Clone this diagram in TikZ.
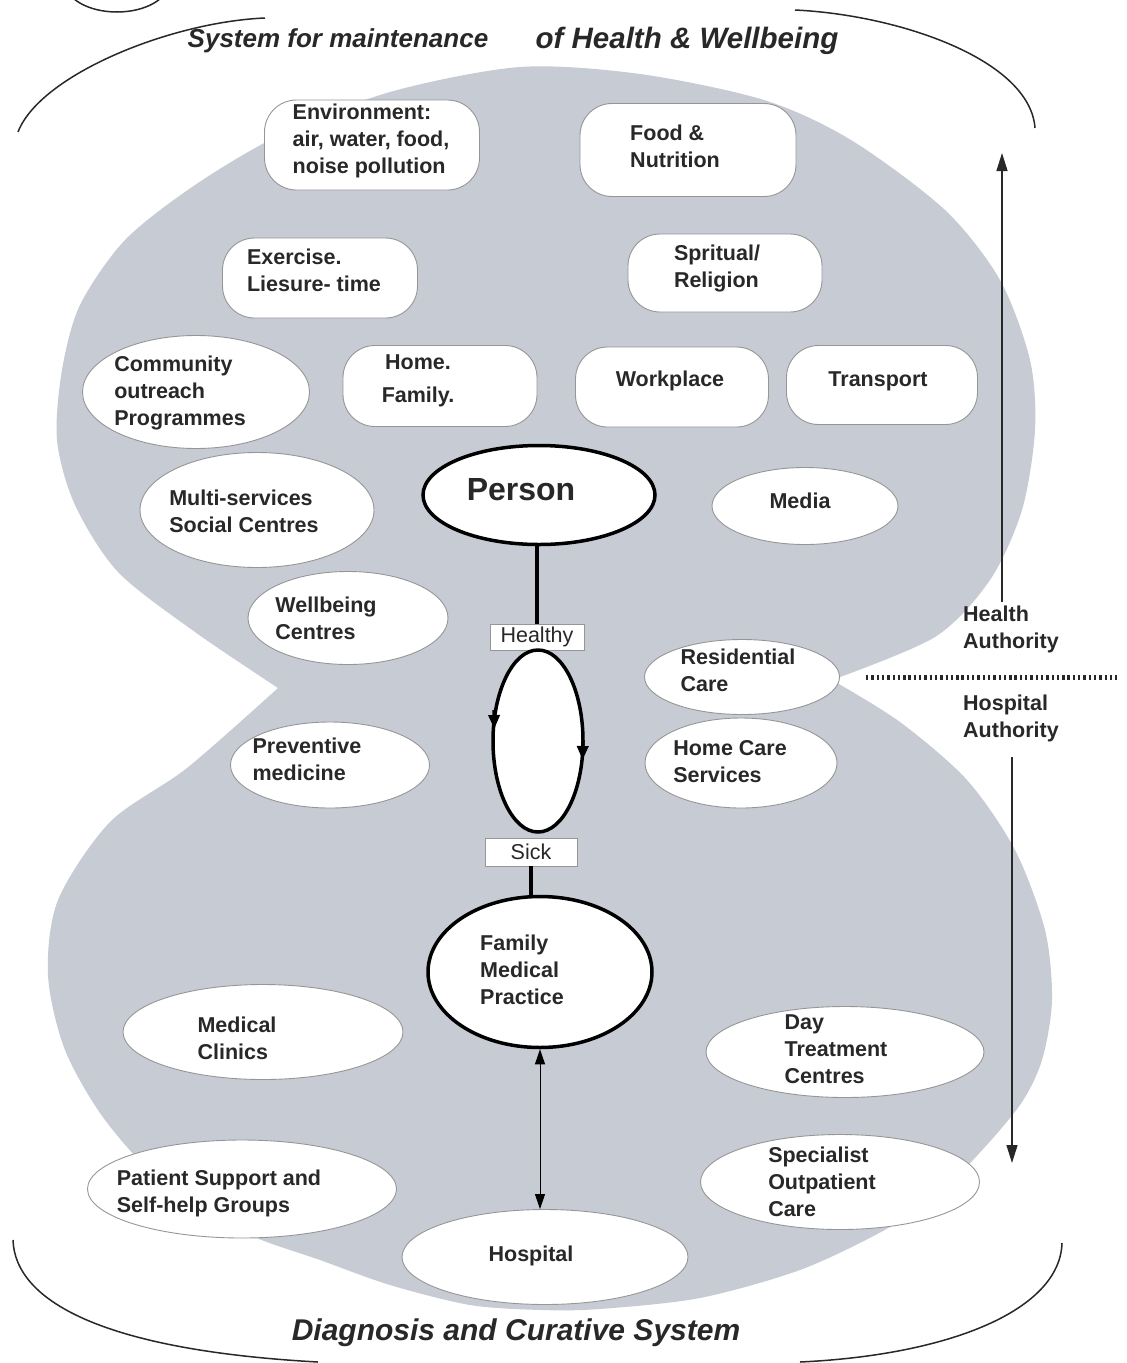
\documentclass[tikz,border=0pt]{standalone}
\usepackage{fontspec}
\setmainfont{Liberation Sans}
\usetikzlibrary{shapes,arrows.meta}
\definecolor{lobe}{RGB}{199,203,212}
\definecolor{rim}{RGB}{150,150,150}
\definecolor{ink}{RGB}{40,40,40}

\begin{document}
\begin{tikzpicture}[x=1pt,y=-1pt,
  every node/.style={inner sep=0pt},
  say/.style={font=\bfseries\fontsize{21.5}{27}\selectfont, align=left, text=ink},
  box/.style={draw=rim, line width=0.9pt, fill=white, rounded corners=32pt},
  oval/.style={draw=rim, line width=0.9pt, fill=white, ellipse},
  hub/.style={draw=black, line width=3.5pt, fill=white, ellipse},
  tag/.style={draw=rim, line width=0.9pt, fill=white, font=\fontsize{21.5}{24}\selectfont, text=ink},
  ttl/.style={font=\bfseries\itshape\fontsize{26}{30}\selectfont, text=ink},
  link/.style={line width=3.5pt},
  dbl/.style={line width=1pt, {Triangle[length=15pt,width=10pt]}-{Triangle[length=15pt,width=10pt]}},
  auth/.style={line width=1.4pt, draw=ink, -{Triangle[length=18pt,width=11pt]}},
  swoop/.style={line width=1.5pt, draw=ink},
  ring/.style={line width=3.5pt, fill=white},
  turn/.style={line width=3.5pt, -{Triangle[length=14pt,width=11pt]}}]

\useasboundingbox (0,0) rectangle (1127,1363);

% grey figure of eight
\fill[lobe] plot[smooth] coordinates {(278,688) (195,632) (118,572) (75,505) (57,440)
    (62,370) (80,305) (125,240) (195,185) (280,135) (390,92) (520,67) (640,74)
    (764,100) (851,140) (945,210) (1000,280) (1030,360) (1035,430) (1022,510)
    (990,580) (935,637) (832,680)}
  -- plot[smooth] coordinates {(832,680) (900,722) (967,780) (1015,850) (1045,930)
    (1052,1000) (1042,1060) (1020,1105) (973,1160) (930,1200) (881,1232) (800,1270)
    (700,1298) (600,1309) (541,1310) (470,1305) (390,1285) (320,1260) (245,1233)
    (165,1185) (105,1120) (65,1050) (48,975) (58,900) (110,822) (187,768) (278,688)}
  -- cycle;

% outer swoops
\draw[swoop] (117,-18) ellipse (52 and 30);
\draw[swoop] (265,18) .. controls (170,22) and (40,75) .. (18,132);
\draw[swoop] (795,10) .. controls (900,15) and (1030,60) .. (1035,128);
\draw[swoop] (13,1240) .. controls (15,1300) and (100,1350) .. (318,1362);
\draw[swoop] (1062,1243) .. controls (1060,1310) and (950,1355) .. (800,1362);

% titles
\node[ttl] (sysA) at (338,41) {System for maintenance};
\node[ttl, font=\bfseries\itshape\fontsize{29.5}{33}\selectfont] (sysB) at (687,41) {of Health \& Wellbeing};
\node[ttl, font=\bfseries\itshape\fontsize{30}{34}\selectfont] (cure) at (516,1333) {Diagnosis and Curative System};

% upper system
\node[box, minimum width=215, minimum height=90,
  label={[say, xshift=-1pt, yshift=4pt]center:{Environment:\\air, water, food,\\noise pollution}}] (env) at (372,145) {};
\node[box, minimum width=216, minimum height=93,
  label={[say, xshift=-13pt, yshift=4pt]center:{Food \&\\Nutrition}}] (food) at (688,150) {};
\node[box, minimum width=195, minimum height=80,
  label={[say, xshift=-6pt, yshift=8pt]center:{Exercise.\\Liesure- time}}] (exer) at (320,278) {};
\node[box, minimum width=194, minimum height=78,
  label={[say, xshift=-8pt, yshift=5pt]center:{Spritual/\\Religion}}] (faith) at (725,273) {};
\node[oval, minimum width=227, minimum height=113,
  label={[say, xshift=-16pt, yshift=-1pt]center:{Community\\outreach\\Programmes}}] (outreach) at (196,392) {};
\node[box, minimum width=194, minimum height=81,
  label={[say, align=center, xshift=-22pt, yshift=5pt]center:{Home.\\[6pt]Family.}}] (home) at (440,386) {};
\node[box, minimum width=193, minimum height=80,
  label={[say, xshift=-2pt, yshift=6pt]center:Workplace}] (work) at (672,387) {};
\node[box, minimum width=191, minimum height=79,
  label={[say, xshift=-4pt, yshift=4pt]center:Transport}] (trans) at (882,385) {};
\node[hub, minimum width=232, minimum height=99,
  label={[say, font=\bfseries\fontsize{32}{36}\selectfont, xshift=-18pt, yshift=5pt]center:Person}] (person) at (539,495) {};
\node[oval, minimum width=186, minimum height=77,
  label={[say, xshift=-5pt, yshift=5pt]center:Media}] (media) at (805,506) {};
\node[oval, minimum width=234, minimum height=115,
  label={[say, xshift=-13pt, yshift=-1pt]center:{Multi-services\\Social Centres}}] (social) at (257,510) {};
\node[oval, minimum width=200, minimum height=93,
  label={[say, xshift=-22pt]center:{Wellbeing\\Centres}}] (wellb) at (348,618) {};
\node[oval, minimum width=195, minimum height=75,
  label={[say, xshift=-4pt, yshift=7pt]center:{Residential\\Care}}] (resid) at (742,677) {};
\node[oval, minimum width=199, minimum height=86,
  label={[say, xshift=-23pt, yshift=6pt]center:{Preventive\\medicine}}] (prevent) at (330,765) {};
\node[oval, minimum width=192, minimum height=90,
  label={[say, xshift=-11pt, yshift=1pt]center:{Home Care\\Services}}] (homecare) at (741,763) {};

% health / sickness loop
\node[tag, minimum width=94, minimum height=26] (healthy) at (537,637) {Healthy};
\node[tag, minimum width=92, minimum height=28] (sick) at (531,852) {Sick};
\coordinate (loop) at (538,741);
\draw[ring] (loop) ellipse (45 and 91);
\draw[turn] (494,710) -- (494.3,729);
\draw[turn] (582.8,741) -- (582.6,760);

% lower system
\node[hub, minimum width=224, minimum height=151,
  label={[say, xshift=-18pt, yshift=2pt]center:{Family\\Medical\\Practice}}] (fmp) at (540,972) {};
\node[oval, minimum width=280, minimum height=95,
  label={[say, xshift=-26pt, yshift=-6pt]center:{Medical\\Clinics}}] (clinics) at (263,1032) {};
\node[oval, minimum width=278, minimum height=91,
  label={[say, xshift=-9pt, yshift=3pt]center:{Day\\Treatment\\Centres}}] (daycare) at (845,1052) {};
\node[oval, minimum width=309, minimum height=98,
  label={[say, xshift=-23pt, yshift=-4pt]center:{Patient Support and\\Self-help Groups}}] (selfhelp) at (242,1189) {};
\node[oval, minimum width=279, minimum height=95,
  label={[say, xshift=-18pt]center:{Specialist\\Outpatient\\Care}}] (special) at (840,1182) {};
\node[oval, minimum width=286, minimum height=95,
  label={[say, xshift=-14pt, yshift=1pt]center:Hospital}] (hosp) at (545,1257) {};

\draw[link] (healthy.north) -- (healthy.north |- person.south);
\draw[link] (sick.south) -- (sick.south |- fmp.north);
\draw[dbl] (fmp.south) -- (fmp.south |- hosp.north);

% authorities
\node[say, anchor=west] (hauth) at (963,629) {Health\\Authority};
\node[say, anchor=west] (pauth) at (963,718) {Hospital\\Authority};
\coordinate (hbase) at (1002,602);
\coordinate (htop) at (1002,153);
\coordinate (pbase) at (1012,757);
\coordinate (pend) at (1012,1163);
\draw[auth] (hbase) -- (htop);
\draw[auth] (pbase) -- (pend);
\coordinate (divA) at (866,677);
\coordinate (divB) at (1117,677);
\draw[line width=5pt, draw=ink, dash pattern=on 2.4pt off 2.9pt] (divA) -- (divB);
\end{tikzpicture}
\end{document}
